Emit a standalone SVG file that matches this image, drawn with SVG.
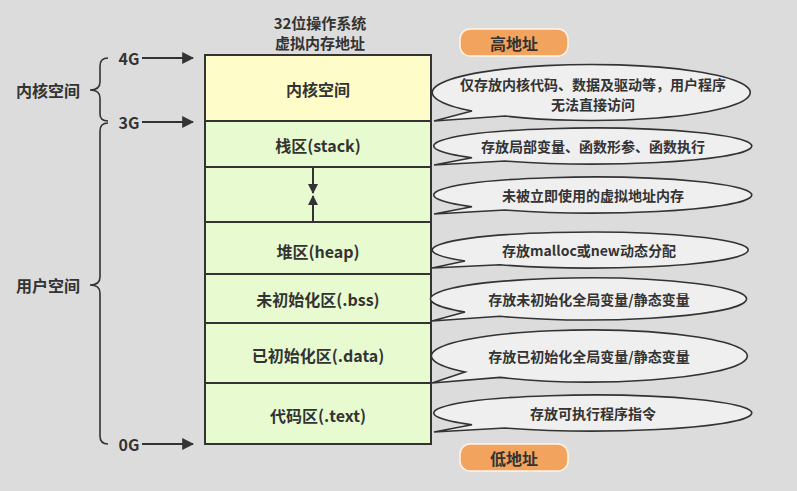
<svg xmlns="http://www.w3.org/2000/svg" width="797" height="491" viewBox="0 0 797 491">
<defs>
<marker id="ah" viewBox="0 0 10 10" refX="9" refY="5" markerWidth="12" markerHeight="12" markerUnits="userSpaceOnUse" orient="auto"><path d="M0,0 L10,5 L0,10 Z" fill="#333"/></marker>
<marker id="ah2" viewBox="0 0 10 10" refX="9" refY="5" markerWidth="10" markerHeight="10" markerUnits="userSpaceOnUse" orient="auto"><path d="M0,0 L10,5 L0,10 Z" fill="#333"/></marker>
<style>
text{font-family:"Noto Sans CJK SC","Noto Sans",sans-serif;font-weight:bold;fill:#333;text-anchor:middle;dominant-baseline:central}
.t{font-size:16px}
.h{font-size:15px}
.s{font-size:14px}
.seg{stroke:#333;stroke-width:2}
.k{fill:#FEFDC9}
.u{fill:#E8FBD0}
.co{fill:#EFEFEF;stroke:#333;stroke-width:1.6}
.pill{fill:#F2A35E;stroke:#FFF3E6;stroke-width:1.5}
.br{fill:none;stroke:#333;stroke-width:1.6}
.ar{stroke:#333;stroke-width:2;fill:none}
</style>
</defs>
<rect width="797" height="491" fill="#DCDCDC"/>
<g id="title">
<text class="h" x="320" y="22">32位操作系统</text>
<text class="h" x="320" y="42">虚拟内存地址</text>
</g>
<g id="kernel"><rect class="seg k" x="205" y="55" width="226" height="66"/><text class="t" x="318" y="89">内核空间</text></g>
<g id="stack"><rect class="seg u" x="205" y="121" width="226" height="46"/><text class="t" x="318" y="145">栈区(stack)</text></g>
<g id="gap"><rect class="seg u" x="205" y="167" width="226" height="55"/></g>
<g id="heap"><rect class="seg u" x="205" y="222" width="226" height="52"/><text class="t" x="318" y="251">堆区(heap)</text></g>
<g id="bss"><rect class="seg u" x="205" y="274" width="226" height="49"/><text class="t" x="318" y="299">未初始化区(.bss)</text></g>
<g id="data"><rect class="seg u" x="205" y="323" width="226" height="60"/><text class="t" x="318" y="355">已初始化区(.data)</text></g>
<g id="text"><rect class="seg u" x="205" y="383" width="226" height="61"/><text class="t" x="318" y="415">代码区(.text)</text></g>
<g id="hi"><rect class="pill" x="460" y="29" width="108" height="27" rx="10"/><text class="t" x="514" y="43">高地址</text></g>
<g id="lo"><rect class="pill" x="460" y="444" width="108" height="27" rx="10"/><text class="t" x="514" y="458">低地址</text></g>
<g id="labels">
<text class="t" x="48" y="90">内核空间</text>
<text class="t" x="48" y="285">用户空间</text>
<text class="t" x="129" y="58">4G</text>
<text class="t" x="129" y="122">3G</text>
<text class="t" x="129" y="444">0G</text>
</g>
<g id="connectors">
<path class="ar" d="M142,58 L193,58" marker-end="url(#ah)"/>
<path class="ar" d="M142,122 L193,122" marker-end="url(#ah)"/>
<path class="ar" d="M142,444 L193,444" marker-end="url(#ah)"/>
<path class="br" d="M108,58 Q100,58 100,66 L100,82 Q100,90 90,90 Q100,90 100,98 L100,114 Q100,121 108,121"/>
<path class="br" d="M108,123 Q100,123 100,131 L100,277 Q100,285 90,285 Q100,285 100,293 L100,436 Q100,444 108,444"/>
<path class="ar" d="M313,167 L313,193" marker-end="url(#ah2)"/>
<path class="ar" d="M313,222 L313,196" marker-end="url(#ah2)"/>
</g>
<g id="c1"><path class="co" d="M472,111 L434,121 L505,116 A159,28 0 1 0 472,111 Z"/><text class="s" x="593" y="84">仅存放内核代码、数据及驱动等，用户程序</text><text class="s" x="593" y="103.5">无法直接访问</text></g>
<g id="c2"><path class="co" d="M472,157.7 L434,165 L505,161 A159,18 0 1 0 472,157.7 Z"/><text class="s" x="593" y="146">存放局部变量、函数形参、函数执行</text></g>
<g id="c3"><path class="co" d="M472,206.7 L434,214 L505,210 A159,18 0 1 0 472,206.7 Z"/><text class="s" x="593" y="195">未被立即使用的虚拟地址内存</text></g>
<g id="c4"><path class="co" d="M465,261 L432,268 L500,264.8 A158,18 0 1 0 465,261 Z"/><text class="s" x="589" y="250">存放malloc或new动态分配</text></g>
<g id="c5"><path class="co" d="M465,312 L432,321 L500,316.3 A158,21 0 1 0 465,312 Z"/><text class="s" x="589" y="299">存放未初始化全局变量/静态变量</text></g>
<g id="c6"><path class="co" d="M465,372 L432,383 L500,377.4 A158,26 0 1 0 465,372 Z"/><text class="s" x="589" y="356">存放已初始化全局变量/静态变量</text></g>
<g id="c7"><path class="co" d="M472,424.7 L434,432 L505,428 A159,18 0 1 0 472,424.7 Z"/><text class="s" x="593" y="413">存放可执行程序指令</text></g>
</svg>
